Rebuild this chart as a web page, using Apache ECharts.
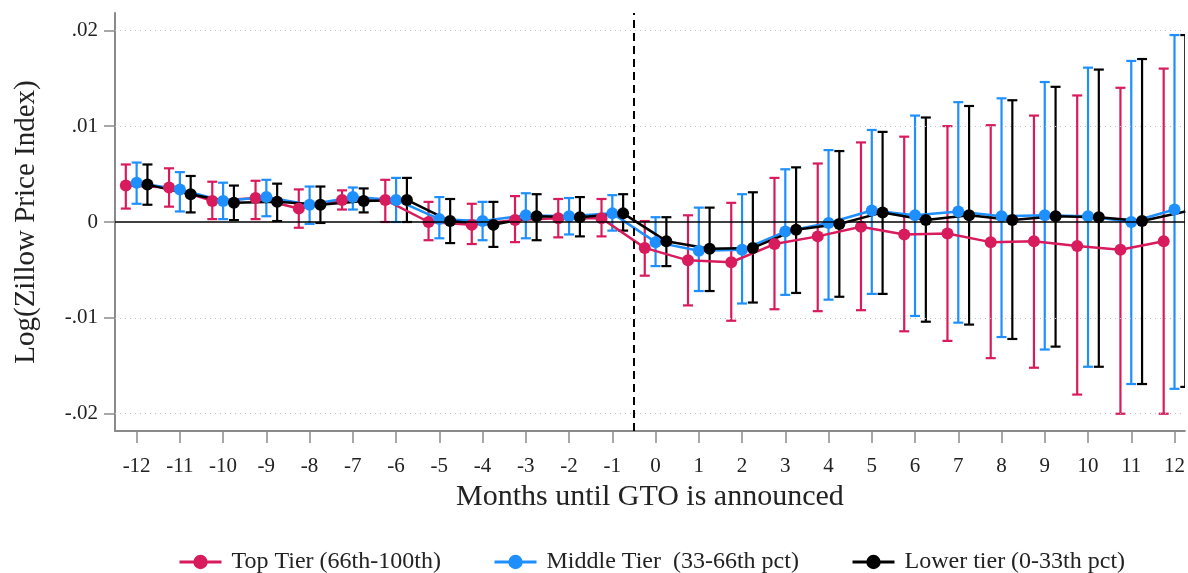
<!DOCTYPE html>
<html lang="en">
<head>
    <meta charset="UTF-8">
    <title>Zillow price index around GTO announcement</title>
    <script src="https://cdn.jsdelivr.net/npm/echarts@6.0.0/dist/echarts.min.js"></script>
    <style>
        html, body { margin: 0; padding: 0; background: #fff; }
    </style>
</head>
<body>
    <div id="main" style="width: 1188px;height:573px;"></div>
    <script type="text/javascript">
        // months relative to the announcement
        const months = [-12, -11, -10, -9, -8, -7, -6, -5, -4, -3, -2, -1, 0, 1, 2, 3, 4, 5, 6, 7, 8, 9, 10, 11, 12];

        // Top tier (66th-100th)
        const topEst = [0.0038, 0.0036, 0.0022, 0.0025, 0.0014, 0.0023, 0.0023, 0.0000, -0.0003, 0.0002, 0.0004, 0.0004,
            -0.0027, -0.0040, -0.0042, -0.0023, -0.0015, -0.0005, -0.0013, -0.0012, -0.0021, -0.0020, -0.0025, -0.0029, -0.0020];
        const topLo = [0.0014, 0.0016, 0.0003, 0.0003, -0.0006, 0.0013, 0.0000, -0.0019, -0.0023, -0.0021, -0.0016, -0.0015,
            -0.0056, -0.0087, -0.0103, -0.0091, -0.0093, -0.0092, -0.0114, -0.0124, -0.0142, -0.0152, -0.0180, -0.0200, -0.0200];
        const topHi = [0.0060, 0.0056, 0.0042, 0.0043, 0.0034, 0.0033, 0.0044, 0.0021, 0.0019, 0.0027, 0.0024, 0.0024,
            0.0001, 0.0007, 0.0020, 0.0046, 0.0061, 0.0083, 0.0089, 0.0100, 0.0101, 0.0111, 0.0132, 0.0140, 0.0160];

        // Middle tier (33-66th pct)
        const midEst = [0.0041, 0.0034, 0.0022, 0.0026, 0.0018, 0.0026, 0.0023, 0.0003, 0.0001, 0.0007, 0.0006, 0.0009,
            -0.0021, -0.0030, -0.0029, -0.0010, -0.0001, 0.0012, 0.0007, 0.0011, 0.0006, 0.0007, 0.0006, 0.0000, 0.0013];
        const midLo = [0.0019, 0.0011, 0.0003, 0.0006, -0.0002, 0.0013, 0.0000, -0.0017, -0.0019, -0.0017, -0.0013, -0.0009,
            -0.0046, -0.0072, -0.0085, -0.0076, -0.0081, -0.0075, -0.0098, -0.0105, -0.0120, -0.0133, -0.0151, -0.0169, -0.0174];
        const midHi = [0.0062, 0.0052, 0.0041, 0.0044, 0.0037, 0.0036, 0.0046, 0.0026, 0.0021, 0.0030, 0.0025, 0.0028,
            0.0005, 0.0015, 0.0029, 0.0055, 0.0075, 0.0096, 0.0111, 0.0125, 0.0129, 0.0146, 0.0161, 0.0168, 0.0195];

        // Lower tier (0-33th pct)
        const lowEst = [0.0039, 0.0029, 0.0020, 0.0021, 0.0018, 0.0022, 0.0023, 0.0001, -0.0003, 0.0006, 0.0005, 0.0009,
            -0.0020, -0.0028, -0.0027, -0.0008, -0.0002, 0.0010, 0.0002, 0.0007, 0.0002, 0.0006, 0.0005, 0.0001, 0.0011];
        const lowLo = [0.0018, 0.0010, 0.0002, 0.0001, -0.0001, 0.0010, 0.0000, -0.0022, -0.0026, -0.0019, -0.0015, -0.0009,
            -0.0046, -0.0072, -0.0084, -0.0074, -0.0078, -0.0075, -0.0104, -0.0107, -0.0122, -0.0130, -0.0151, -0.0169, -0.0172];
        const lowHi = [0.0060, 0.0048, 0.0038, 0.0040, 0.0037, 0.0035, 0.0046, 0.0024, 0.0021, 0.0029, 0.0026, 0.0029,
            0.0005, 0.0015, 0.0031, 0.0057, 0.0074, 0.0094, 0.0109, 0.0121, 0.0127, 0.0141, 0.0159, 0.0170, 0.0195];

        const yTicks = [-0.02, -0.01, 0, 0.01, 0.02];
        const seriesNames = ['Top Tier (66th-100th)', 'Middle Tier  (33-66th pct)', 'Lower tier (0-33th pct)'];

        const FONT = '"Liberation Serif", "DejaVu Serif", serif';
        const RED = '#d81b5c';
        const BLUE = '#1e8fff';
        const BLACK = '#000000';

        let myChart = echarts.init(document.getElementById('main'));

        // error bars with caps, drawn through the axis scales
        function errorBars(name, offset, lo, hi, color) {
            return {
                name: name,
                type: 'custom',
                silent: true,
                clip: true,
                encode: { x: 0, y: [1, 2] },
                data: months.map((m, i) => [m + offset, lo[i], hi[i]]),
                renderItem: function (params, api) {
                    const x = api.value(0);
                    const pLo = api.coord([x, api.value(1)]);
                    const pHi = api.coord([x, api.value(2)]);
                    const cap = 5;
                    const style = { stroke: color, lineWidth: 2.2 };
                    return {
                        type: 'group',
                        children: [
                            { type: 'line', shape: { x1: pLo[0], y1: pLo[1], x2: pHi[0], y2: pHi[1] }, style: style },
                            { type: 'line', shape: { x1: pHi[0] - cap, y1: pHi[1], x2: pHi[0] + cap, y2: pHi[1] }, style: style },
                            { type: 'line', shape: { x1: pLo[0] - cap, y1: pLo[1], x2: pLo[0] + cap, y2: pLo[1] }, style: style }
                        ]
                    };
                }
            };
        }

        function estLine(name, offset, est, color) {
            return {
                name: name,
                type: 'line',
                symbol: 'circle',
                symbolSize: 12,
                clip: true,
                data: months.map((m, i) => [m + offset, est[i]]),
                itemStyle: { color: color },
                lineStyle: { color: color, width: 2.5 },
                emphasis: { disabled: true }
            };
        }

        function legendAt(name, left) {
            return {
                data: [name],
                left: left,
                top: 545,
                itemWidth: 42,
                itemHeight: 18,
                selectedMode: false,
                lineStyle: { width: 3 },
                textStyle: { fontFamily: FONT, fontSize: 24, color: '#222', padding: [0, 0, 0, 5] }
            };
        }

        const yFmt = v => {
            if (Math.abs(v) < 1e-9) return '0';
            return (v < 0 ? '-' : '') + Math.abs(v).toFixed(2).replace(/^0/, '');
        };

        let options = {
            animation: false,
            backgroundColor: '#fff',
            textStyle: { fontFamily: FONT },
            grid: { left: 115, right: 0, top: 13, bottom: 142 },
            legend: [
                legendAt(seriesNames[0], 173),
                legendAt(seriesNames[1], 488),
                legendAt(seriesNames[2], 846)
            ],
            xAxis: {
                type: 'value',
                min: -12.5,
                max: 12.24,
                name: 'Months until GTO is announced',
                nameLocation: 'middle',
                nameGap: 50,
                nameTextStyle: { fontFamily: FONT, fontSize: 30, color: '#222' },
                axisLine: { show: true, onZero: false, lineStyle: { color: '#8a8a8a', width: 2 } },
                axisTick: { show: true, customValues: months, length: 12, lineStyle: { color: '#8a8a8a', width: 1.5 } },
                axisLabel: { customValues: months, fontSize: 21, color: '#222', margin: 25, fontFamily: FONT },
                splitLine: { show: false }
            },
            yAxis: {
                type: 'value',
                min: -0.0218,
                max: 0.0218,
                name: 'Log(Zillow Price Index)',
                nameLocation: 'middle',
                nameGap: 74,
                nameRotate: 90,
                nameTextStyle: { fontFamily: FONT, fontSize: 29, color: '#222' },
                axisLine: { show: true, onZero: false, lineStyle: { color: '#8a8a8a', width: 2 } },
                axisTick: { show: true, customValues: yTicks, length: 11, lineStyle: { color: '#8a8a8a', width: 1.5 } },
                axisLabel: { customValues: yTicks, formatter: yFmt, fontSize: 21, color: '#222', margin: 17, fontFamily: FONT },
                splitLine: { show: false }
            },
            series: [
                {
                    // reference lines: dotted grid, zero line, announcement line
                    name: 'refs',
                    type: 'line',
                    data: [],
                    silent: true,
                    z: 1,
                    markLine: {
                        silent: true,
                        symbol: 'none',
                        label: { show: false },
                        animation: false,
                        data: [
                            { yAxis: -0.02, lineStyle: { color: '#bdbdbd', width: 1, type: [1, 4] } },
                            { yAxis: -0.01, lineStyle: { color: '#bdbdbd', width: 1, type: [1, 4] } },
                            { yAxis: 0.01, lineStyle: { color: '#bdbdbd', width: 1, type: [1, 4] } },
                            { yAxis: 0.02, lineStyle: { color: '#bdbdbd', width: 1, type: [1, 4] } },
                            { yAxis: 0, lineStyle: { color: '#000', width: 1.5, type: 'solid' } },
                            { xAxis: -0.5, lineStyle: { color: '#000', width: 2, type: [8, 5] } }
                        ]
                    }
                },
                errorBars('Top CI', -0.25, topLo, topHi, RED),
                estLine(seriesNames[0], -0.25, topEst, RED),
                errorBars('Middle CI', 0, midLo, midHi, BLUE),
                estLine(seriesNames[1], 0, midEst, BLUE),
                errorBars('Lower CI', 0.25, lowLo, lowHi, BLACK),
                estLine(seriesNames[2], 0.25, lowEst, BLACK)
            ]
        };

        myChart.setOption(options);
    </script>
</body>
</html>
